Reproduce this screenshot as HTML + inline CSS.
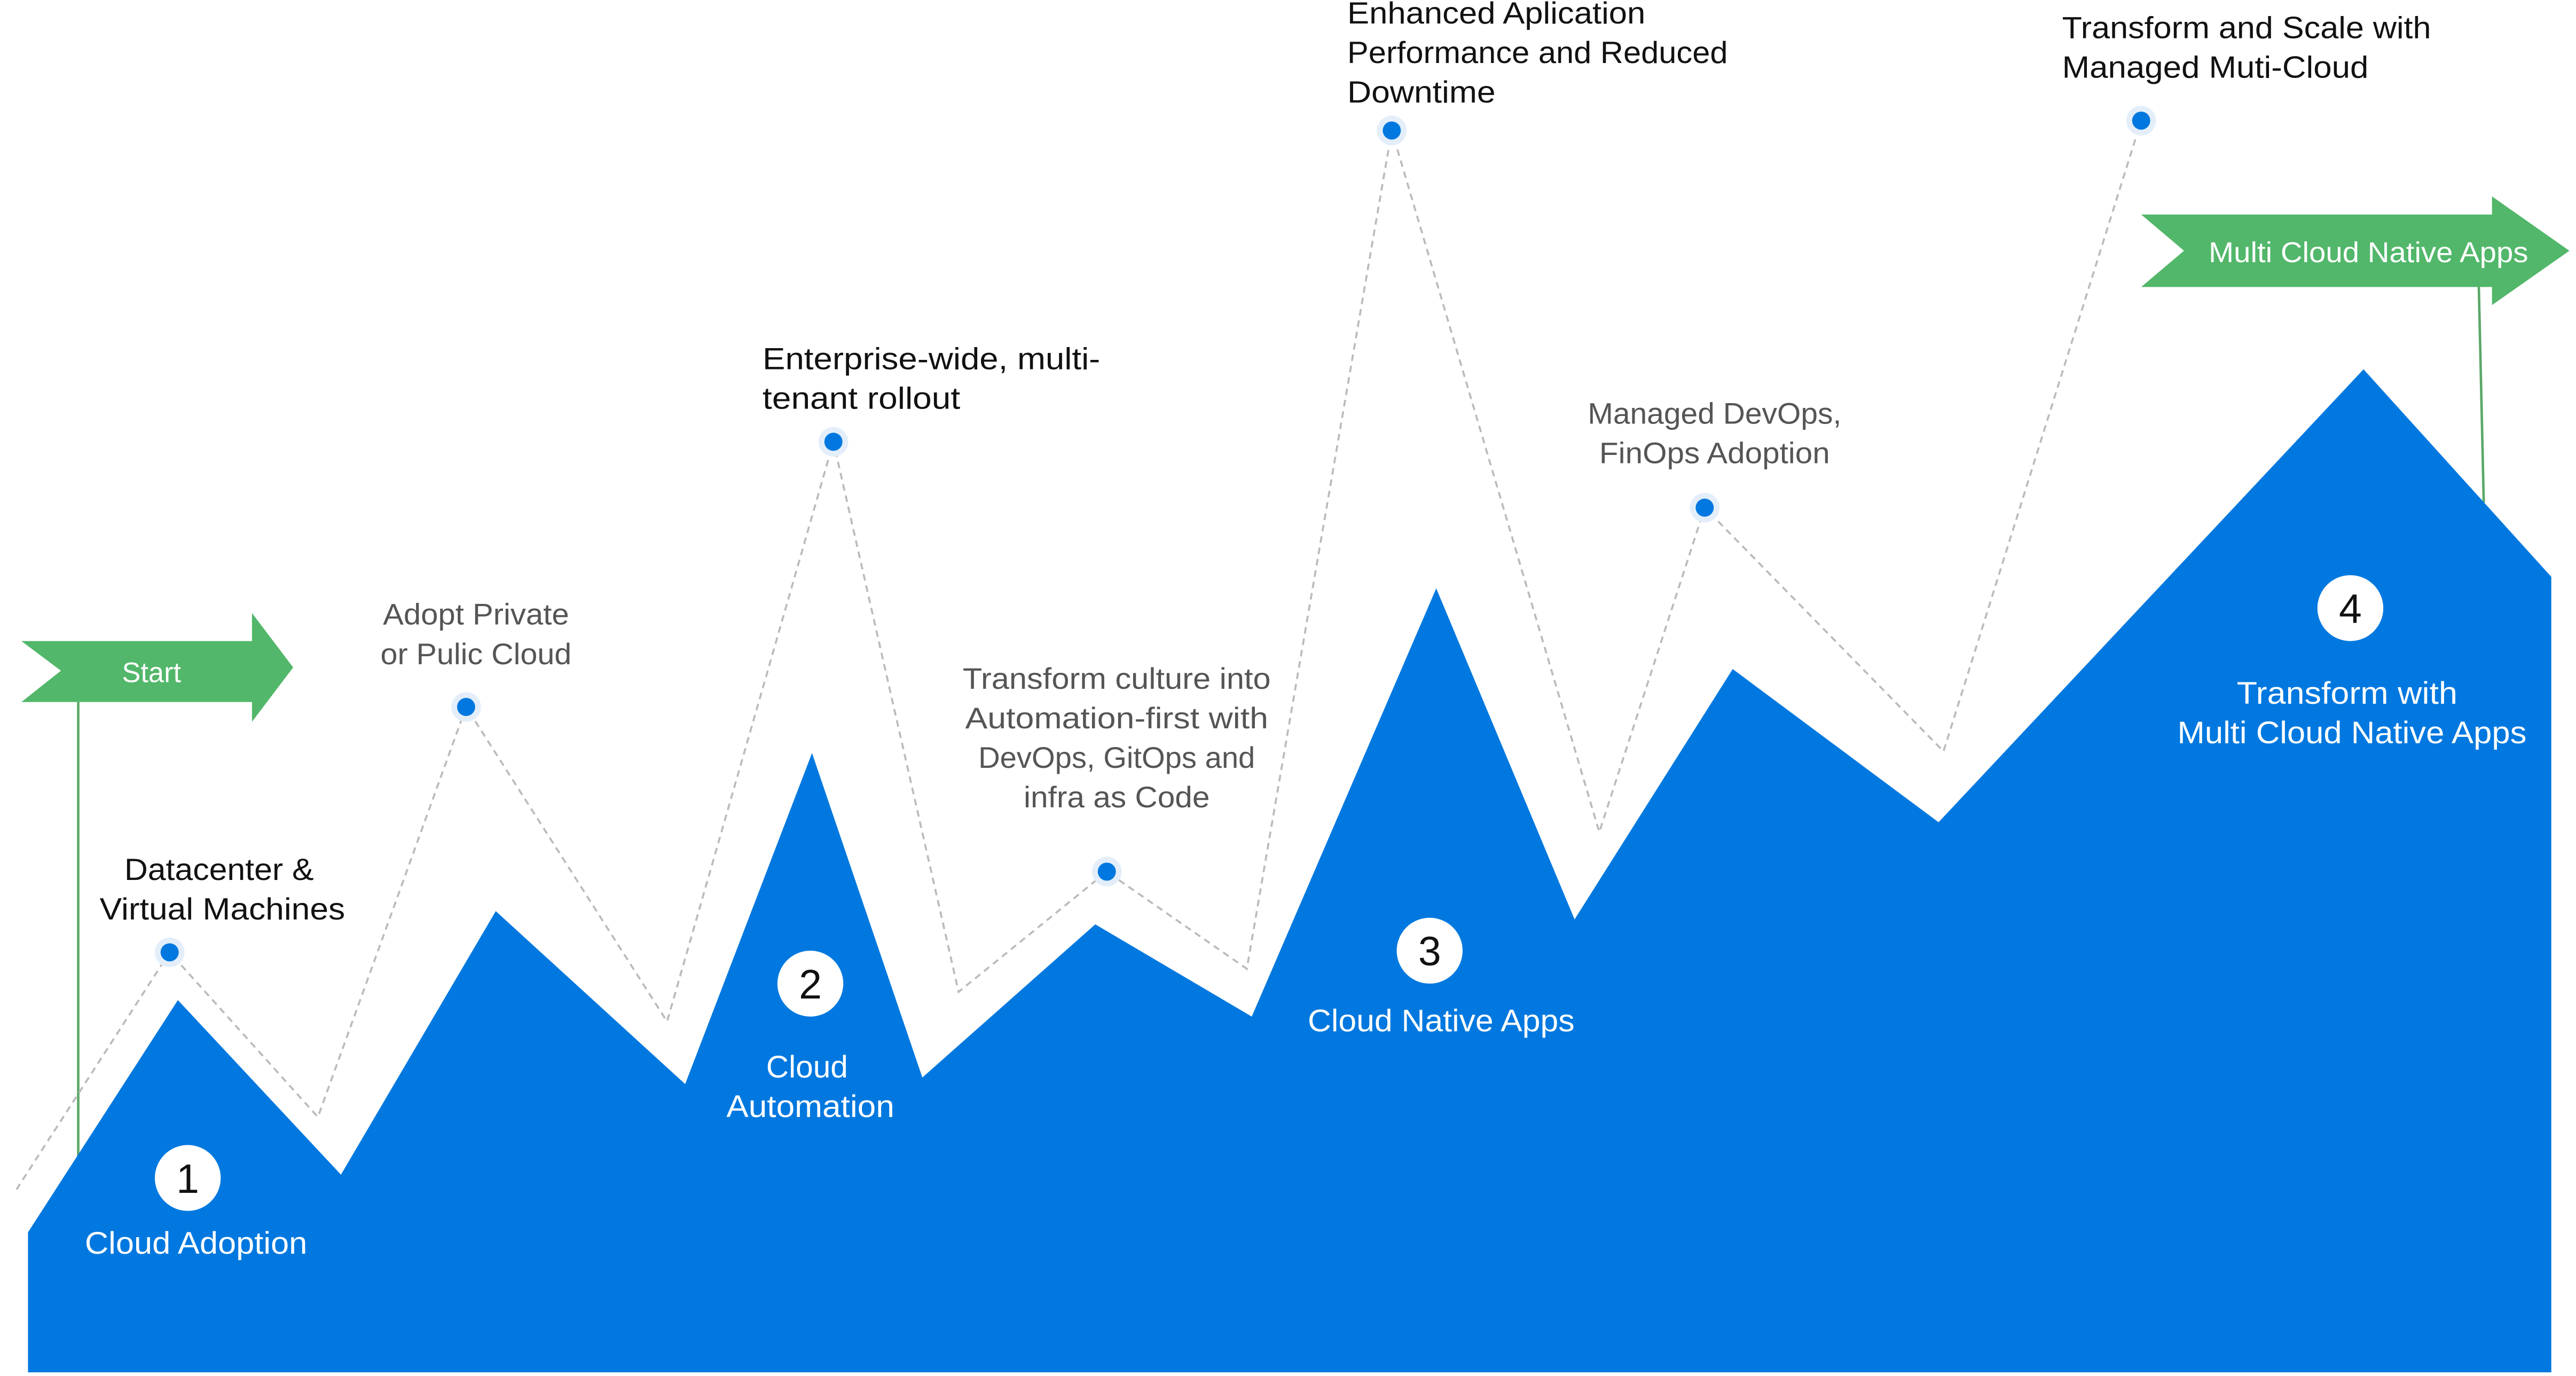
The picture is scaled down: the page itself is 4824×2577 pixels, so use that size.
<!DOCTYPE html>
<html><head><meta charset="utf-8"><style>
html,body{margin:0;padding:0;background:#fff;}
svg{display:block;}
text{font-family:"Liberation Sans",sans-serif;}
</style></head><body>
<svg width="4824" height="2577" viewBox="0 0 1564 835" xmlns="http://www.w3.org/2000/svg">
<rect width="1564" height="835" fill="#fff"/>
<line x1="47.5" y1="426" x2="47.5" y2="705" stroke="#5aa868" stroke-width="1.5"/>
<line x1="1505" y1="174" x2="1508" y2="305" stroke="#5aa868" stroke-width="1.5"/>
<polygon fill="#0078df" points="17,748 108,607 207,713 301,553 416,658 493,457 560,654 665,561 760,617 872,357 956,558 1052,406 1177,499 1435,224 1549,350 1549,833 17,833"/>
<polyline fill="none" stroke="#bbb" stroke-width="1.2" stroke-dasharray="4,3" points="10,722 103,578 193,678 283,429 405,620 506,268 582,602 672,529 757,588 845,79 971,505 1035,308 1180,456 1300,73"/>
<g fill="#e3eefa"><circle cx="103" cy="578" r="9"/><circle cx="283" cy="429" r="9"/><circle cx="506" cy="268" r="9"/><circle cx="672" cy="529" r="9"/><circle cx="845" cy="79" r="9"/><circle cx="1035" cy="308" r="9"/><circle cx="1300" cy="73" r="9"/></g>
<g fill="#0078df"><circle cx="103" cy="578" r="5.5"/><circle cx="283" cy="429" r="5.5"/><circle cx="506" cy="268" r="5.5"/><circle cx="672" cy="529" r="5.5"/><circle cx="845" cy="79" r="5.5"/><circle cx="1035" cy="308" r="5.5"/><circle cx="1300" cy="73" r="5.5"/></g>
<polygon fill="#52b76a" points="13,389 153,389 153,372 178,405 153,438 153,426 13,426 37,407"/>
<polygon fill="#52b76a" points="1300,130 1513,130 1513,119 1560,152 1513,185 1513,174 1300,174 1326,152"/>
<text x="92" y="414" font-size="17" fill="#fff" text-anchor="middle">Start</text>
<text x="1438" y="159" font-size="17.5" fill="#fff" text-anchor="middle" textLength="194" lengthAdjust="spacingAndGlyphs">Multi Cloud Native Apps</text>
<g fill="#fff"><circle cx="114" cy="715" r="20"/><circle cx="492" cy="597" r="20"/><circle cx="868" cy="577" r="20"/><circle cx="1427" cy="369" r="20"/></g>
<g font-size="25" fill="#111" text-anchor="middle"><text x="114" y="724">1</text><text x="492" y="606">2</text><text x="868" y="586">3</text><text x="1427" y="378">4</text></g>
<g font-size="19" fill="#fff" text-anchor="middle">
<text x="119" y="761" textLength="135" lengthAdjust="spacingAndGlyphs">Cloud Adoption</text>
<text x="490" y="654">Cloud</text><text x="492" y="678" textLength="102" lengthAdjust="spacingAndGlyphs">Automation</text>
<text x="875" y="626" textLength="162" lengthAdjust="spacingAndGlyphs">Cloud Native Apps</text>
<text x="1425" y="427" textLength="134" lengthAdjust="spacingAndGlyphs">Transform with</text><text x="1428" y="451" textLength="212" lengthAdjust="spacingAndGlyphs">Multi Cloud Native Apps</text>
</g>
<g font-size="18.5" fill="#111" text-anchor="middle" font-weight="500">
<text x="133" y="534" textLength="115" lengthAdjust="spacingAndGlyphs">Datacenter &amp;</text><text x="135" y="558" textLength="149" lengthAdjust="spacingAndGlyphs">Virtual Machines</text>
</g>
<g font-size="18.5" fill="#111">
<text x="463" y="224" textLength="205" lengthAdjust="spacingAndGlyphs">Enterprise-wide, multi-</text><text x="463" y="248" textLength="120" lengthAdjust="spacingAndGlyphs">tenant rollout</text>
<text x="818" y="14" textLength="181" lengthAdjust="spacingAndGlyphs">Enhanced Aplication</text><text x="818" y="38" textLength="231" lengthAdjust="spacingAndGlyphs">Performance and Reduced</text><text x="818" y="62" textLength="90" lengthAdjust="spacingAndGlyphs">Downtime</text>
<text x="1252" y="23" textLength="224" lengthAdjust="spacingAndGlyphs">Transform and Scale with</text><text x="1252" y="47" textLength="186" lengthAdjust="spacingAndGlyphs">Managed Muti-Cloud</text>
</g>
<g font-size="18" fill="#555" text-anchor="middle">
<text x="289" y="379" textLength="113" lengthAdjust="spacingAndGlyphs">Adopt Private</text><text x="289" y="403" textLength="116" lengthAdjust="spacingAndGlyphs">or Pulic Cloud</text>
<text x="678" y="418" textLength="187" lengthAdjust="spacingAndGlyphs">Transform culture into</text><text x="678" y="442" textLength="184" lengthAdjust="spacingAndGlyphs">Automation-first with</text><text x="678" y="466" textLength="168" lengthAdjust="spacingAndGlyphs">DevOps, GitOps and</text><text x="678" y="490" textLength="113" lengthAdjust="spacingAndGlyphs">infra as Code</text>
<text x="1041" y="257" textLength="154" lengthAdjust="spacingAndGlyphs">Managed DevOps,</text><text x="1041" y="281" textLength="140" lengthAdjust="spacingAndGlyphs">FinOps Adoption</text>
</g>
</svg>
</body></html>
